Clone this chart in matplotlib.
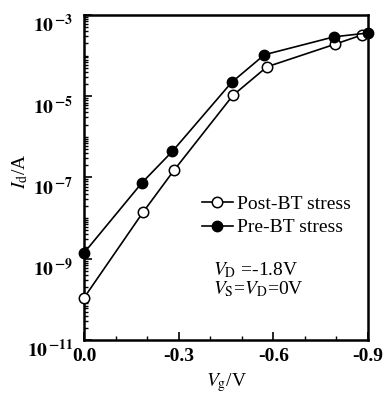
import matplotlib
matplotlib.use("Agg")
import matplotlib.pyplot as plt
import matplotlib.ticker as mticker
import matplotlib.transforms as mtransforms
import numpy as np

plt.rcParams['font.family'] = ['Liberation Serif', 'DejaVu Serif']
plt.rcParams['mathtext.fontset'] = 'stix'

# gate voltage (V) and drain current (A)
vg_post = [0.0, -0.187, -0.285, -0.472, -0.58, -0.795, -0.88]
id_post = [1.1e-10, 1.4e-8, 1.5e-7, 1.05e-5, 5.3e-5, 1.9e-4, 3.2e-4]
vg_pre = [0.0, -0.184, -0.28, -0.468, -0.572, -0.793, -0.9]
id_pre = [1.4e-9, 7.5e-8, 4.4e-7, 2.2e-5, 1.05e-4, 2.9e-4, 3.6e-4]

xtick_vals = [0.0, -0.3, -0.6, -0.9]
xtick_labels = ['0.0', '-0.3', '-0.6', '-0.9']
ytick_exps = [-3, -5, -7, -9, -11]

fig = plt.figure(figsize=(3.84, 3.94), dpi=100)
ax = fig.add_axes([0.219, 0.137, 0.739, 0.825])

ax.plot(vg_post, id_post, '-o', color='k', lw=1.2, ms=7.5, mfc='white', mec='k', mew=1.1,
        label='Post-BT stress', clip_on=False, zorder=3)
ax.plot(vg_pre, id_pre, '-o', color='k', lw=1.2, ms=7.5, mfc='k', mec='k',
        label='Pre-BT stress', clip_on=False, zorder=3)

ax.set_yscale('log')
ax.set_xlim(0.0, -0.9)
ax.set_ylim(1e-11, 1e-3)

ax.set_xticks(xtick_vals)
ax.set_xticklabels(xtick_labels, fontsize=14, fontweight='bold')
ax.xaxis.set_minor_locator(mticker.MultipleLocator(0.1))

ax.yaxis.set_major_locator(mticker.FixedLocator([10.0**e for e in ytick_exps]))
ax.set_yticklabels([r'$\mathbf{10}^{\,\mathbf{%d}}$' % e for e in ytick_exps], fontsize=14)
ax.yaxis.set_minor_locator(mticker.LogLocator(base=10, subs=np.arange(1, 10), numticks=20))
ax.yaxis.set_minor_formatter(mticker.NullFormatter())

ax.tick_params(which='both', direction='in', top=False, right=False)
ax.tick_params(axis='x', which='major', pad=6)
ax.tick_params(axis='y', which='major', pad=8)
ax.tick_params(which='major', length=6, width=1.2)
ax.tick_params(which='minor', length=3, width=1.0)
for s in ax.spines.values():
    s.set_linewidth(1.8)

# y labels sit a little below their ticks
shift = mtransforms.ScaledTranslation(0, -6 / 72, fig.dpi_scale_trans)
for lbl in ax.get_yticklabels():
    lbl.set_transform(lbl.get_transform() + shift)

ax.set_xlabel(r'$V_{\mathrm{g}}$/V', fontsize=14, labelpad=4)
ax.set_ylabel(r'$I_{\mathrm{d}}$/A', fontsize=14)
ax.yaxis.set_label_coords(-0.19, 0.52)

ax.legend(loc='upper left', bbox_to_anchor=(0.38, 0.475), frameon=False, fontsize=14,
          handlelength=1.6, handletextpad=0.2, labelspacing=0.3, borderpad=0)

ax.text(0.455, 0.20, r'$V_{\mathrm{D}}$ =-1.8V', transform=ax.transAxes, fontsize=14)
ax.text(0.455, 0.14, r'$V_{\mathrm{S}}$=$V_{\mathrm{D}}$=0V', transform=ax.transAxes, fontsize=14)

fig.savefig('out.png', dpi=100)
